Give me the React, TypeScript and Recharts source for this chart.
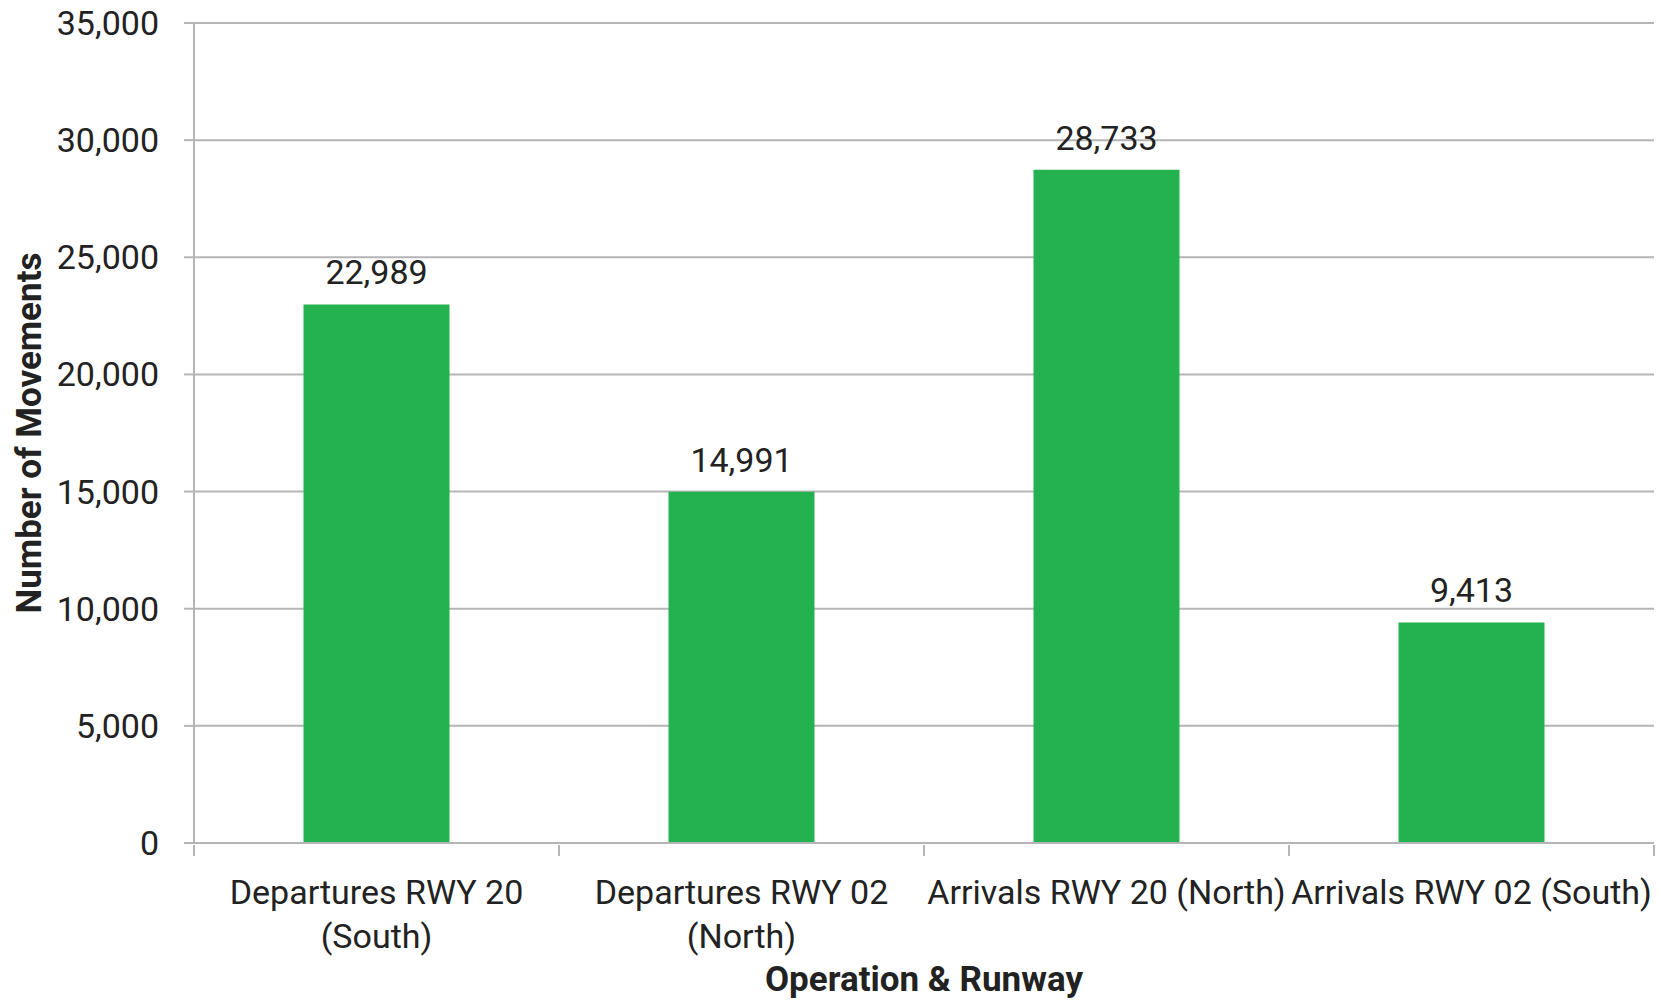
import { BarChart, Bar, XAxis, YAxis, CartesianGrid, LabelList, Label } from 'recharts'

const categories = [
  'Departures RWY 20 (South)',
  'Departures RWY 02 (North)',
  'Arrivals RWY 20 (North)',
  'Arrivals RWY 02 (South)',
]
const tickLines = [
  ['Departures RWY 20', '(South)'],
  ['Departures RWY 02', '(North)'],
  ['Arrivals RWY 20 (North)'],
  ['Arrivals RWY 02 (South)'],
]
const movements = [22989, 14991, 28733, 9413]
const yTicks = [0, 5000, 10000, 15000, 20000, 25000, 30000, 35000]

const data = categories.map((name, i) => ({ name, movements: movements[i] }))

const W = 1661
const H = 1001
const M = { top: 23, right: 7, bottom: 0, left: 0 }
const Y_W = 194
const BAND = (W - M.left - M.right - Y_W) / categories.length

const FONT = 'Roboto, "Liberation Sans", sans-serif'
const INK = '#222'
const GRID = '#b5b5b5'

const fmt = (v: number) => v.toLocaleString('en-US')

function CategoryTick(props: any) {
  const { x, y, payload, index } = props
  const lines = tickLines[index] || [payload.value]
  const left = x - BAND / 2
  const top = y - 6
  return (
    <g>
      <line x1={left} x2={left} y1={top} y2={top + 11} stroke={GRID} strokeWidth={2} />
      {index === categories.length - 1 && (
        <line x1={left + BAND} x2={left + BAND} y1={top} y2={top + 11} stroke={GRID} strokeWidth={2} />
      )}
      {lines.map((t: string, k: number) => (
        <text key={k} x={x} y={top + 59 + k * 44} textAnchor="middle" fill={INK} fontSize={34} fontFamily={FONT}>
          {t}
        </text>
      ))}
    </g>
  )
}

export default function App() {
  return (
    <div style={{ width: W, height: H, background: '#fff' }}>
      <style>{'body{margin:0}'}</style>
      <BarChart width={W} height={H} data={data} margin={M} barCategoryGap="30%">
        <CartesianGrid vertical={false} stroke={GRID} strokeWidth={2} />
        <XAxis
          dataKey="name"
          height={158}
          interval={0}
          tickLine={false}
          axisLine={{ stroke: GRID, strokeWidth: 2 }}
          tick={<CategoryTick />}
        >
          <Label
            value="Operation & Runway"
            position="insideBottom"
            offset={10}
            fill={INK}
            fontSize={35}
            fontWeight="bold"
            fontFamily={FONT}
          />
        </XAxis>
        <YAxis
          width={Y_W}
          domain={[0, 35000]}
          ticks={yTicks}
          interval={0}
          tickFormatter={fmt}
          tickSize={10}
          tickMargin={25}
          axisLine={{ stroke: GRID, strokeWidth: 2 }}
          tickLine={{ stroke: GRID, strokeWidth: 2 }}
          tick={{ fill: INK, fontSize: 34, fontFamily: FONT }}
        >
          <Label
            content={({ viewBox }: any) => {
              const cx = viewBox.x + 29
              const cy = viewBox.y + viewBox.height / 2
              return (
                <text
                  x={cx}
                  y={cy}
                  transform={`rotate(-90 ${cx} ${cy})`}
                  textAnchor="middle"
                  dominantBaseline="central"
                  fill={INK}
                  fontSize={35}
                  fontWeight="bold"
                  fontFamily={FONT}
                >
                  Number of Movements
                </text>
              )
            }}
          />
        </YAxis>
        <Bar dataKey="movements" fill="#24B14F" isAnimationActive={false}>
          <LabelList
            dataKey="movements"
            position="top"
            offset={20}
            formatter={(v: any) => fmt(Number(v))}
            fill={INK}
            fontSize={34}
            fontFamily={FONT}
          />
        </Bar>
      </BarChart>
    </div>
  )
}
